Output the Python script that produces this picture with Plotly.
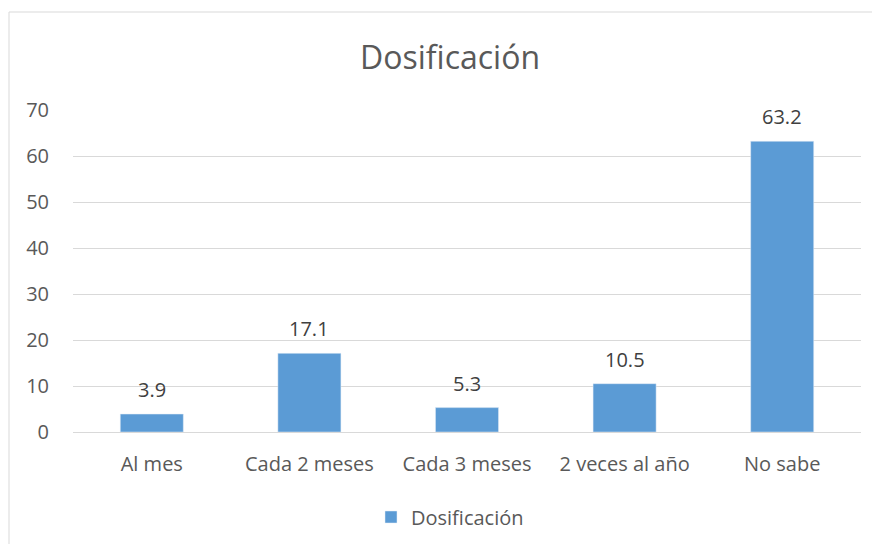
import plotly.graph_objects as go

categories = ["Al mes", "Cada 2 meses", "Cada 3 meses", "2 veces al año", "No sabe"]
values = [3.9, 17.1, 5.3, 10.5, 63.2]
series_name = "Dosificación"
title_text = "Dosificación"

FONT = "Open Sans, Liberation Sans, sans-serif"
GRAY = "#595959"

fig = go.Figure(go.Bar(
    x=categories, y=values, name=series_name,
    marker=dict(color="#5b9bd5"),
    showlegend=True,
))

W, H = 880, 544
OFF = 7  # page offset
L, R, T, B = 72 - OFF, 27, 109 - OFF, 544 - (431 - OFF)
pw, ph = W - L - R, H - T - B

def px(x):
    return (x - OFF - L) / pw

def py(y):
    return (H - B - (y - OFF)) / ph

annotations = [
    dict(x=c, y=v, xref="x", yref="y", text=f"{v:.1f}", showarrow=False,
         yanchor="bottom", yshift=9, font=dict(size=20, color="#404040", family=FONT))
    for c, v in zip(categories, values)
]

fig.update_layout(
    width=W, height=H,
    margin=dict(l=L, r=R, t=T, b=B),
    paper_bgcolor="white", plot_bgcolor="white",
    font=dict(family=FONT, color=GRAY, size=20),
    title=dict(text=title_text, x=px(449), xanchor="center", xref="paper",
               y=1 - (57 - OFF) / H, yanchor="middle", font=dict(size=32, color=GRAY)),
    bargap=0.6,
    showlegend=True,
    legend=dict(orientation="h", x=px(449), xanchor="center", y=py(516), yanchor="middle",
                itemwidth=30, font=dict(size=20, color=GRAY)),
    xaxis=dict(showgrid=False, showline=True, linecolor="#d9d9d9", linewidth=1,
               ticks="", ticklabelstandoff=14, tickfont=dict(size=20, color=GRAY)),
    yaxis=dict(range=[0, 70], dtick=10, showgrid=True, gridcolor="#d9d9d9",
               zeroline=False, showline=False, ticks="", ticklabelstandoff=23,
               tickfont=dict(size=20, color=GRAY)),
    annotations=annotations,
    shapes=[dict(type="rect", xref="paper", yref="paper",
                 x0=px(8), x1=px(885), y0=py(548), y1=py(11),
                 line=dict(color="#d9d9d9", width=1), layer="below")],
)

fig.write_html("out.html")
